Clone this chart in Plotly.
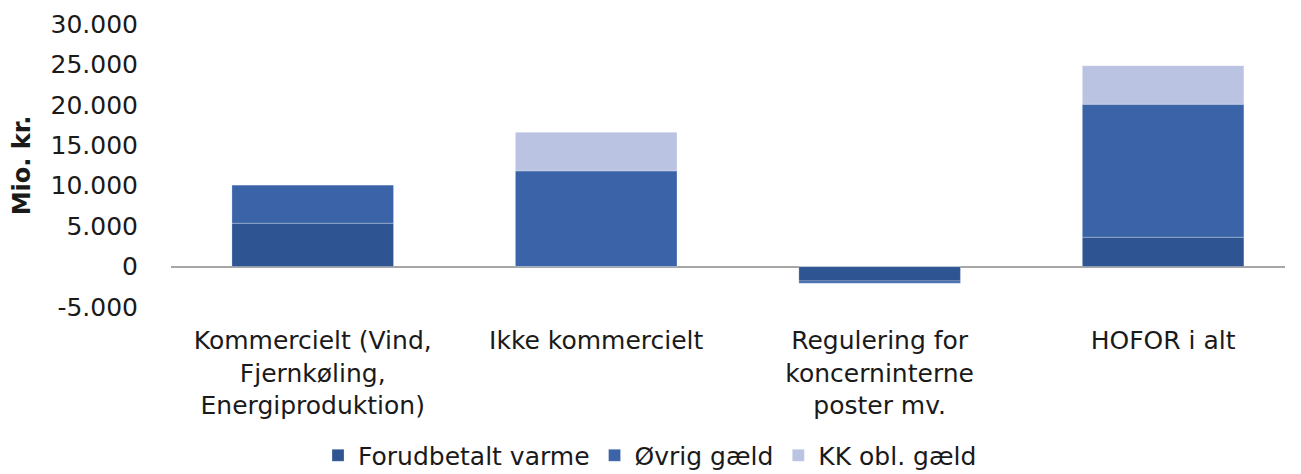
import plotly.graph_objects as go

categories = ["Kommercielt (Vind,<br>Fjernkøling,<br>Energiproduktion)", "Ikke kommercielt",
              "Regulering for<br>koncerninterne<br>poster mv.", "HOFOR i alt"]
forudbetalt = [5360, 0, -1770, 3630]
oevrig = [4740, 11830, -280, 16440]
kk_obl = [0, 4780, 0, 4780]
y_ticks = [-5000, 0, 5000, 10000, 15000, 20000, 25000, 30000]
y_labels = ["-5.000", "0", "5.000", "10.000", "15.000", "20.000", "25.000", "30.000"]

x = list(range(len(categories)))
edge = dict(color="rgba(255,255,255,0.25)", width=1)

fig = go.Figure()
fig.add_trace(go.Bar(x=x, y=forudbetalt, name="Forudbetalt varme",
                     marker=dict(color="#2F5492", line=edge)))
fig.add_trace(go.Bar(x=x, y=oevrig, name="Øvrig gæld",
                     marker=dict(color="#3A63A8", line=edge)))
fig.add_trace(go.Bar(x=x, y=kk_obl, name="KK obl. gæld",
                     marker=dict(color="#BAC4E2", line=edge)))

# page body has an 8px margin, so the figure is sized to fill the rest of the window
fig.update_layout(
    barmode="relative",
    bargap=0.43,
    width=1293, height=466,
    margin=dict(l=163, r=16, t=16, b=167, autoexpand=False),
    paper_bgcolor="white", plot_bgcolor="white",
    font=dict(family="DejaVu Sans", size=25, color="#1a1a1a"),
    showlegend=True,
    legend=dict(orientation="h", x=0.43, xanchor="center", y=-0.525, yanchor="middle",
                font=dict(size=25), traceorder="normal", itemwidth=30, tracegroupgap=0),
    xaxis=dict(tickvals=x, ticktext=categories, range=[-0.5, 3.43], automargin=False,
               showline=False, showgrid=False, zeroline=False, ticks="",
               ticklabelstandoff=16),
    yaxis=dict(tickvals=y_ticks, ticktext=y_labels, range=[-5000, 30000], automargin=False,
               showgrid=False, zeroline=True, zerolinecolor="#A6A6A6", zerolinewidth=2,
               showline=False, ticks="", ticklabelstandoff=32,
               title=dict(text="<b>Mio. kr.</b>", font=dict(size=24), standoff=14)),
)

fig.write_html("out.html")
